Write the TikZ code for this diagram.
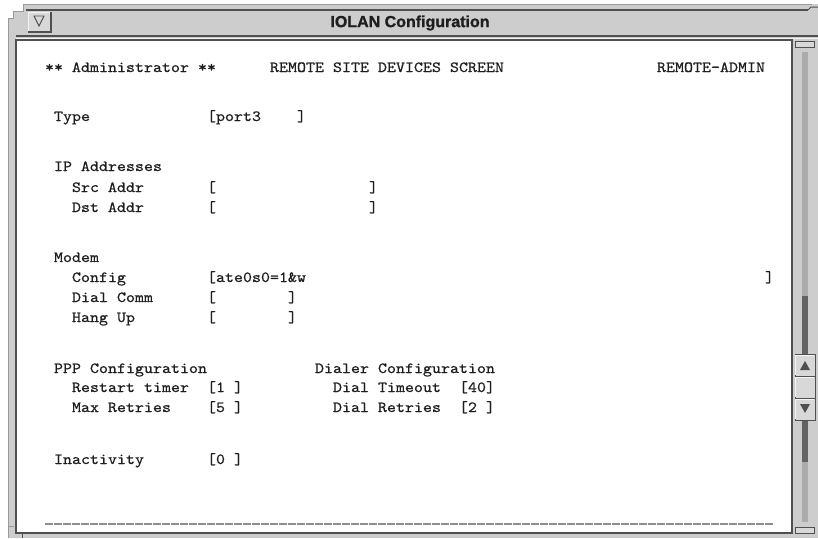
\documentclass[tikz,border=0pt]{standalone}
\usepackage{fontspec}
\newfontfamily\scrfont[FakeStretch=1.106,FakeBold=0.6]{lmmono10-regular.otf}
\newfontfamily\ttlfont[FakeBold=1.2]{Liberation Sans}
\definecolor{framegray}{HTML}{CDCDCD}
\definecolor{edgegray}{HTML}{9A9A9A}
\definecolor{darkline}{HTML}{505050}
\definecolor{lightedge}{HTML}{F4F4F4}
\definecolor{btnface}{HTML}{D8D8D8}
\definecolor{trough}{HTML}{ABABAB}
\definecolor{cable}{HTML}{636363}
\definecolor{ink}{HTML}{1E1E1E}
\definecolor{dashgray}{HTML}{8E8E8E}
\begin{document}
\begin{tikzpicture}[x=1pt,y=-1pt,
  txt/.style={anchor=base west, inner sep=0pt, outer sep=0pt, text=ink,
    font=\scrfont\fontsize{15.5}{18}\selectfont},
  titletxt/.style={inner sep=0pt, text=ink, font=\ttlfont\bfseries\fontsize{16}{18}\selectfont},
  dashline/.style={draw=dashgray, line width=1.6pt, dash pattern=on 7.6pt off 1.4pt},
  btn/.style={fill=btnface, draw=darkline, line width=1pt}]
\useasboundingbox (0,0) rectangle (818,538);
\fill[white] (0,0) rectangle (818,538);
% window frame
\fill[framegray] (8,538) -- (8,18) -- (13,18) -- (13,11) -- (23,11) -- (23,4) -- (818,4) -- (818,538) -- cycle;
\draw[edgegray, line width=1pt] (8,538) -- (8,18) -- (13,18) -- (13,11) -- (23,11) -- (23,4) -- (812,4);
\draw[darkline, line width=1.6pt] (26,10) -- (808,10);
\draw[darkline, line width=1pt] (808,10) -- (811,7) -- (818,7);
\draw[darkline, line width=1.2pt] (16,36) -- (818,36);
\draw[lightedge, line width=1pt] (16,38) -- (818,38);
% bottom-left corner detail
\draw[edgegray, line width=1pt] (8,526) -- (14,526);
\draw[darkline, line width=1pt] (22,533) -- (22,538);
% content area
\filldraw[fill=white, draw=darkline, line width=1.6pt] (16,40) rectangle (792,533);
% menu button
\fill[btnface] (28,12) rectangle (51,32);
\draw[lightedge, line width=1pt] (28,32) -- (28,12) -- (51,12);
\draw[darkline, line width=1.2pt] (28,32) -- (51,32) -- (51,12);
\draw[darkline, line width=0.9pt] (34,16) -- (44,16) -- (39,26) -- cycle;
% title
\node[titletxt] (title) at (410,23) {IOLAN Configuration};
% scrollbar
\node[btn, minimum width=19pt, minimum height=6pt, inner sep=0pt] (topanchor) at (804.5,44) {};
\fill[trough] (802,52) rectangle (808,522);
\fill[cable] (802,296) rectangle (808,354);
\fill[cable] (802,420) rectangle (808,462);
\filldraw[fill=btnface, draw=darkline, line width=1pt] (795,354) rectangle (815,420);
\draw[lightedge, line width=1pt] (795.5,375) -- (795.5,355) -- (814,355);
\draw[darkline, line width=1pt] (795,376) -- (815,376);
\draw[lightedge, line width=1pt] (795.5,397) -- (795.5,377) -- (814,377);
\draw[darkline, line width=1pt] (795,398) -- (815,398);
\draw[lightedge, line width=1pt] (795.5,419) -- (795.5,399) -- (814,399);
\fill[darkline] (800,370) -- (810,370) -- (805,361) -- cycle;
\fill[darkline] (800,404) -- (810,404) -- (805,413) -- cycle;
\node[btn, minimum width=19pt, minimum height=6pt, inner sep=0pt] (botanchor) at (804.5,530) {};
% screen text
\node[txt] (adm) at (45,72) {** Administrator **};
\node[txt] (scr) at (270,72) {REMOTE SITE DEVICES SCREEN};
\node[txt] (radm) at (657,72) {REMOTE-ADMIN};
\node[txt] (type) at (54,121) {Type};
\node[txt] (typev) at (207,121) {[port3};
\node[txt] (typee) at (297,121) {]};
\node[txt] (ip) at (54,171) {IP Addresses};
\node[txt] (src) at (72,192) {Src Addr};
\node[txt] (srcv) at (207,192) {[};
\node[txt] (srce) at (369,192) {]};
\node[txt] (dst) at (72,212) {Dst Addr};
\node[txt] (dstv) at (207,212) {[};
\node[txt] (dste) at (369,212) {]};
\node[txt] (modem) at (54,262) {Modem};
\node[txt] (cfg) at (72,282) {Config};
\node[txt] (cfgv) at (207,282) {[ate0s0=1\&w};
\node[txt] (cfge) at (765,282) {]};
\node[txt] (dial) at (72,302) {Dial Comm};
\node[txt] (dialv) at (207,302) {[};
\node[txt] (diale) at (288,302) {]};
\node[txt] (hang) at (72,322) {Hang Up};
\node[txt] (hangv) at (207,322) {[};
\node[txt] (hange) at (288,322) {]};
\node[txt] (ppp) at (54,373) {PPP Configuration};
\node[txt] (dlr) at (315,373) {Dialer Configuration};
\node[txt] (rst) at (72,392) {Restart timer};
\node[txt] (rstv) at (207,392) {[1 ]};
\node[txt] (dto) at (333,392) {Dial Timeout};
\node[txt] (dtov) at (459,392) {[40]};
\node[txt] (mxr) at (72,412) {Max Retries};
\node[txt] (mxrv) at (207,412) {[5 ]};
\node[txt] (drt) at (333,412) {Dial Retries};
\node[txt] (drtv) at (459,412) {[2 ]};
\node[txt] (inact) at (54,464) {Inactivity};
\node[txt] (inactv) at (207,464) {[0 ]};
% bottom dashed rule
\coordinate (dl1) at (45,524);
\coordinate (dl2) at (774,524);
\draw[dashline] (dl1) -- (dl2);
\end{tikzpicture}
\end{document}
